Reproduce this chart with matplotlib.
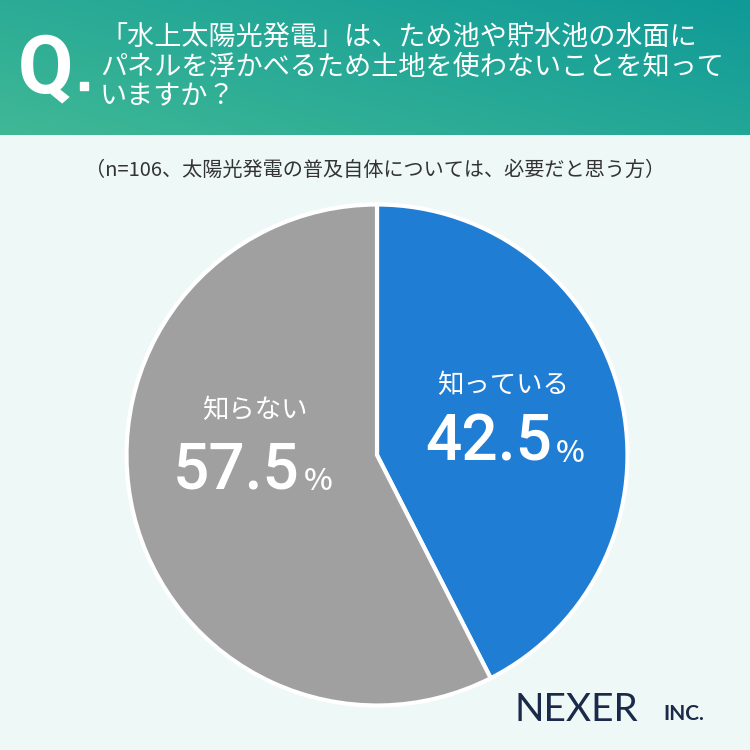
import matplotlib.pyplot as plt
import numpy as np

plt.rcParams['font.family'] = ['Noto Sans CJK JP', 'DejaVu Sans']

labels = ['知っている', '知らない']
values = [42.5, 57.5]
colors = ['#1f7dd4', '#a0a0a0']

fig = plt.figure(figsize=(7.5, 7.5), dpi=100)
fig.patch.set_facecolor('#eef8f6')

# header gradient band
hdr = fig.add_axes([0, 1 - 135 / 750, 1, 135 / 750])
x = np.linspace(0, 1, 300)
y = np.linspace(0, 1, 60)
X, Y = np.meshgrid(x, y)
t = np.clip(0.6 * X + 0.4 * Y, 0, 1)
c0 = np.array([0x3f, 0xb8, 0x95]) / 255
c1 = np.array([0x0f, 0x9a, 0x98]) / 255
img = c0[None, None, :] * (1 - t[..., None]) + c1[None, None, :] * t[..., None]
hdr.imshow(img, aspect='auto', extent=[0, 1, 0, 1], origin='lower')
hdr.axis('off')
fig.text(18 / 750, 1 - 70 / 750, 'Q', color='white', fontsize=58, fontweight='bold',
         va='center', ha='left', family='Roboto')
fig.patches.append(plt.Rectangle((80 / 750, 1 - 90 / 750), 8 / 750, 8 / 750,
                                 transform=fig.transFigure, color='white'))
qtext = '「水上太陽光発電」は、ため池や貯水池の水面に\nパネルを浮かべるため土地を使わないことを知って\nいますか？'
fig.text(100 / 750, 1 - 67 / 750, qtext, color='white', fontsize=19.5, va='center',
         ha='left', linespacing=1.12)

fig.text(0.5, 1 - 170 / 750, '（n=106、太陽光発電の普及自体については、必要だと思う方）',
         ha='center', va='center', fontsize=14.5, color='#333333')

ax = fig.add_axes([(377 - 253) / 750, 1 - (455 + 253) / 750, 506 / 750, 506 / 750])
ax.pie(values, colors=colors, startangle=90, counterclock=False,
       wedgeprops=dict(edgecolor='white', linewidth=3))
ax.set_xlim(-1.01, 1.01)
ax.set_ylim(-1.01, 1.01)
ax.set_aspect('equal')

fig.text(503 / 750, 1 - 385 / 750, labels[0], ha='center', va='center', fontsize=19, color='white')
fig.text(552 / 750, 1 - 442 / 750, f'{values[0]}', ha='right', va='center', fontsize=46,
         color='white', fontweight='medium', family='Roboto')
fig.text(556 / 750, 1 - 453 / 750, '%', ha='left', va='center', fontsize=22, color='white',
         fontweight='medium')
fig.text(255 / 750, 1 - 410 / 750, labels[1], ha='center', va='center', fontsize=19, color='white')
fig.text(300 / 750, 1 - 470 / 750, f'{values[1]}', ha='right', va='center', fontsize=46,
         color='white', fontweight='medium', family='Roboto')
fig.text(304 / 750, 1 - 481 / 750, '%', ha='left', va='center', fontsize=22, color='white',
         fontweight='medium')

fig.text(515 / 750, 1 - 710 / 750, 'NEXER', ha='left', va='center', fontsize=28, color='#1b2a4a',
         family='Lato')
fig.text(663 / 750, 1 - 714 / 750, 'INC.', ha='left', va='center', fontsize=15, color='#1b2a4a',
         family='Lato', fontweight='bold')

fig.savefig('out.png', dpi=100, facecolor=fig.get_facecolor())
